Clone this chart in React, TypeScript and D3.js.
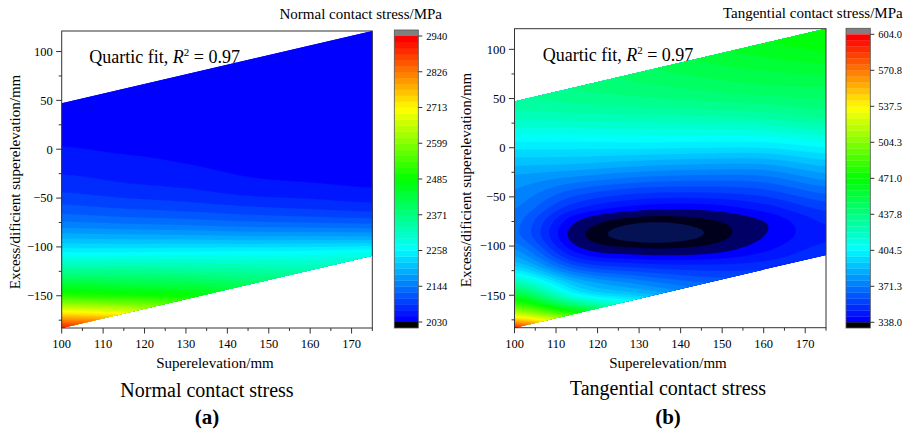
import React from 'react';
import * as d3 from 'd3';

// ---------- data ----------
const xCols = [100, 115, 130, 145, 160, 175];
const yRows = [135, 120, 105, 90, 75, 60, 45, 30, 15, 0, -15, -30, -45, -60, -75, -90, -105, -120, -135, -150, -165, -180, -195];

// Normal contact stress (MPa); one array per superelevation column, rows top -> bottom
const normalGrid = [
  [2042, 2042, 2042, 2043, 2043, 2044, 2044, 2044, 2046, 2050, 2058, 2072, 2088, 2112, 2146, 2195, 2255, 2330, 2420, 2520, 2690, 2870, 3050],
  [2044, 2044, 2044, 2044, 2044, 2044, 2044, 2044, 2045, 2047, 2054, 2064, 2080, 2104, 2140, 2192, 2255, 2333, 2412, 2505, 2665, 2850, 3030],
  [2046, 2046, 2046, 2045, 2044, 2043, 2042, 2042, 2043, 2045, 2049, 2058, 2074, 2098, 2135, 2190, 2258, 2330, 2405, 2490, 2620, 2790, 2950],
  [2047, 2047, 2046, 2045, 2044, 2042, 2041, 2040, 2040, 2041, 2044, 2050, 2064, 2090, 2128, 2186, 2260, 2325, 2390, 2470, 2580, 2730, 2900],
  [2048, 2048, 2047, 2046, 2045, 2043, 2041, 2039, 2038, 2038, 2040, 2046, 2060, 2084, 2124, 2186, 2262, 2322, 2400, 2500, 2600, 2750, 2900],
  [2048, 2048, 2048, 2047, 2046, 2044, 2042, 2040, 2038, 2036, 2036, 2042, 2055, 2078, 2120, 2185, 2270, 2335, 2420, 2520, 2650, 2800, 2950],
];

// Tangential contact stress (MPa)
const tangGrid = [
  [452, 448, 445, 441, 437, 434, 430, 422, 411, 400, 390, 381, 376, 372, 368, 368, 378, 393, 420, 458, 505, 575, 660],
  [456, 453, 450, 446, 442, 438, 432, 423, 411, 400, 389, 376, 363, 351, 338, 334, 342, 360, 385, 408, 462, 535, 620],
  [461, 458, 455, 451, 446, 441, 434, 424, 412, 400, 386, 371, 356, 342, 327, 323, 334, 352, 372, 392, 430, 490, 560],
  [466, 463, 460, 455, 450, 444, 436, 425, 412, 399, 384, 369, 355, 341, 329, 326, 335, 350, 364, 380, 410, 460, 520],
  [470, 468, 464, 459, 453, 447, 438, 427, 413, 399, 384, 370, 358, 347, 338, 338, 343, 352, 362, 375, 400, 440, 500],
  [475, 472, 468, 462, 455, 448, 441, 432, 418, 404, 391, 379, 367, 357, 350, 348, 352, 358, 365, 372, 385, 400, 420],
];

// Domain boundary (parallelogram)
const boundX = [100, 175];
const boundUpper = [47, 121];
const boundLower = [-183, -109];

const xDomain = [100, 175];
const yDomain = [-183, 121];
const xMajor = [100, 110, 120, 130, 140, 150, 160, 170];
const xMinor = [105, 115, 125, 135, 145, 155, 165, 175];
const yMajor = [-150, -100, -50, 0, 50, 100];
const yMinor = [-175, -125, -75, -25, 25, 75];

const normalRange = [2030, 2940];
const normalTickLabels = ['2030', '2144', '2258', '2371', '2485', '2599', '2713', '2826', '2940'];
const tangRange = [338, 604];
const tangTickLabels = ['338.0', '371.3', '404.5', '437.8', '471.0', '504.3', '537.5', '570.8', '604.0'];
const nBands = 48;

// ---------- helpers ----------
const FONT = '"Liberation Serif", "Times New Roman", serif';
const cmap = d3.scaleLinear<string>()
  .domain([0, 0.25, 0.5, 0.75, 1])
  .range(['#0000ff', '#00ffff', '#00ff00', '#ffff00', '#ff0000'])
  .interpolate(d3.interpolateRgb);

function cubic(p0: number, p1: number, p2: number, p3: number, t: number) {
  return p1 + 0.5 * t * (p2 - p0 + t * (2 * p0 - 5 * p1 + 4 * p2 - p3 + t * (3 * (p1 - p2) + p3 - p0)));
}
function sampleGrid(grid: number[][], x: number, y: number) {
  const nc = xCols.length, nr = yRows.length;
  const u = (x - xCols[0]) / (xCols[1] - xCols[0]);
  const v = (yRows[0] - y) / (yRows[0] - yRows[1]);
  const ci = Math.max(0, Math.min(nc - 2, Math.floor(u)));
  const ri = Math.max(0, Math.min(nr - 2, Math.floor(v)));
  const tu = u - ci, tv = v - ri;
  const cl = (i: number, n: number) => Math.max(0, Math.min(n - 1, i));
  const col: number[] = [];
  for (let k = -1; k <= 2; k++) {
    const c = grid[cl(ci + k, nc)];
    col.push(cubic(c[cl(ri - 1, nr)], c[cl(ri, nr)], c[cl(ri + 1, nr)], c[cl(ri + 2, nr)], tv));
  }
  return cubic(col[0], col[1], col[2], col[3], tu);
}

type PanelProps = {
  id: string;
  grid: number[][];
  range: number[];
  tickLabels: string[];
  px: [number, number];
  py: [number, number]; // [bottom, top]
  cbX: [number, number];
  cbGray: number; cbTop: number; cbBot: number; cbBlackBot: number;
  cbTitle: string; cbTitleX: number; cbTitleY: number;
  fitX: number; fitY: number;
  yTitleX: number; yTitleY: number;
  xTitleX: number; xTitleY: number;
  sub: string; subX: number; subY: number;
  letter: string; letterY: number;
  below?: boolean;
};

function Panel(p: PanelProps) {
  const sx = d3.scaleLinear().domain(xDomain).range(p.px);
  const sy = d3.scaleLinear().domain(yDomain).range(p.py);
  const [lo, hi] = p.range;
  const levels = d3.range(nBands + 1).map(i => lo + (i * (hi - lo)) / nBands);

  const fx0 = 98, fy0 = -192, dxs = 0.5, dys = 1;
  const nx = Math.round((177 - fx0) / dxs) + 1;
  const ny = Math.round((126 - fy0) / dys) + 1;
  const vals = new Array(nx * ny);
  for (let j = 0; j < ny; j++) {
    for (let i = 0; i < nx; i++) {
      vals[j * nx + i] = sampleGrid(p.grid, fx0 + i * dxs, fy0 + j * dys);
    }
  }
  const proj = d3.geoTransform({
    point(x: number, y: number) {
      (this as any).stream.point(sx(fx0 + (x - 0.5) * dxs), sy(fy0 + (y - 0.5) * dys));
    },
  });
  const path = d3.geoPath(proj);
  const contours = d3.contours().size([nx, ny]).thresholds(levels.slice(0, nBands))(vals);
  const topC = d3.contours().size([nx, ny]).thresholds([hi])(vals);
  const neg = vals.map((v: number) => -v);
  const lowC = p.below ? d3.contours().size([nx, ny]).thresholds([-lo, -331, -326])(neg) : [];

  const clipPts = [
    [boundX[0], boundUpper[0]], [boundX[1], boundUpper[1]],
    [boundX[1], boundLower[1]], [boundX[0], boundLower[0]],
  ].map(([x, y]) => `${sx(x)},${sy(y)}`).join(' ');

  const cb = d3.scaleLinear().domain([lo, hi]).range([p.cbBot, p.cbTop]);
  const tickVals = p.tickLabels.map((_, i) => lo + (i * (hi - lo)) / (p.tickLabels.length - 1));
  const fmt = d3.format('');
  const axisColor = '#333';
  const lowFill = ['#000', '#000', '#0a2aa8'];
  const lowOp = [0.6, 0.72, 0.4];

  return (
    <g>
      <defs>
        <clipPath id={`clip-${p.id}`}>
          <polygon points={clipPts} />
        </clipPath>
      </defs>
      <g clipPath={`url(#clip-${p.id})`}>
        <rect x={p.px[0] - 5} y={p.py[1] - 5} width={p.px[1] - p.px[0] + 10} height={p.py[0] - p.py[1] + 10} fill={cmap(0)} />
        {contours.map((c, i) => (
          <path key={i} d={path(c as any) || ''} fill={cmap(i / (nBands - 1))} stroke={cmap(i / (nBands - 1))} strokeWidth={0.3} />
        ))}
        {topC.map((c, i) => <path key={'t' + i} d={path(c as any) || ''} fill="#808080" />)}
        {lowC.map((c, i) => (
          <path key={'l' + i} d={path(c as any) || ''} fill={lowFill[i]} fillOpacity={lowOp[i]} />
        ))}
      </g>
      {/* frame */}
      <rect x={p.px[0]} y={p.py[1]} width={p.px[1] - p.px[0]} height={p.py[0] - p.py[1]} fill="none" stroke={axisColor} strokeWidth={1} />
      {/* x ticks */}
      {xMajor.map(v => (
        <g key={'xm' + v}>
          <line x1={sx(v)} x2={sx(v)} y1={p.py[0]} y2={p.py[0] + 5.5} stroke={axisColor} />
          <text x={sx(v)} y={p.py[0] + 20} textAnchor="middle" fontSize={12.5} fontFamily={FONT}>{fmt(v)}</text>
        </g>
      ))}
      {xMinor.map(v => <line key={'xn' + v} x1={sx(v)} x2={sx(v)} y1={p.py[0]} y2={p.py[0] + 3} stroke={axisColor} />)}
      {yMajor.map(v => (
        <g key={'ym' + v}>
          <line x1={p.px[0] - 5.5} x2={p.px[0]} y1={sy(v)} y2={sy(v)} stroke={axisColor} />
          <text x={p.px[0] - 9} y={sy(v) + 4.3} textAnchor="end" fontSize={12.5} fontFamily={FONT}>{d3.format('')(v)}</text>
        </g>
      ))}
      {yMinor.map(v => <line key={'yn' + v} x1={p.px[0] - 3} x2={p.px[0]} y1={sy(v)} y2={sy(v)} stroke={axisColor} />)}

      {/* fit annotation */}
      <text x={p.fitX} y={p.fitY} fontSize={18} fontFamily={FONT}>
        <tspan>Quartic fit, </tspan>
        <tspan fontStyle="italic">R</tspan>
        <tspan fontSize={11} dy={-7}>2</tspan>
        <tspan dy={7}> = 0.97</tspan>
      </text>

      {/* colorbar */}
      <rect x={p.cbX[0]} y={p.cbGray} width={p.cbX[1] - p.cbX[0]} height={p.cbTop - p.cbGray} fill="#808080" />
      {levels.slice(0, nBands).map((l, i) => (
        <rect key={'cb' + i} x={p.cbX[0]} y={cb(levels[i + 1])} width={p.cbX[1] - p.cbX[0]}
          height={cb(l) - cb(levels[i + 1]) + 0.3} fill={cmap(i / (nBands - 1))} />
      ))}
      <rect x={p.cbX[0]} y={p.cbBot} width={p.cbX[1] - p.cbX[0]} height={p.cbBlackBot - p.cbBot} fill="#000" />
      <rect x={p.cbX[0]} y={p.cbGray} width={p.cbX[1] - p.cbX[0]} height={p.cbBlackBot - p.cbGray} fill="none" stroke="#555" strokeWidth={0.8} />
      {tickVals.map((v, i) => (
        <g key={'ct' + i}>
          <line x1={p.cbX[1]} x2={p.cbX[1] + 4} y1={cb(v)} y2={cb(v)} stroke={axisColor} />
          <text x={p.cbX[1] + 8} y={cb(v) + 3.8} fontSize={10.5} fontFamily={FONT}>{p.tickLabels[i]}</text>
        </g>
      ))}
      <text x={p.cbTitleX} y={p.cbTitleY} textAnchor="end" fontSize={15} fontFamily={FONT}>{p.cbTitle}</text>

      {/* titles */}
      <text transform={`translate(${p.yTitleX},${p.yTitleY}) rotate(-90)`} textAnchor="middle" fontSize={15} fontFamily={FONT}>
        Excess/dificient superelevation/mm
      </text>
      <text x={p.xTitleX} y={p.xTitleY} textAnchor="middle" fontSize={15} fontFamily={FONT}>Superelevation/mm</text>
      <text x={p.subX} y={p.subY} textAnchor="middle" fontSize={20} fontFamily={FONT}>{p.sub}</text>
      <text x={p.subX} y={p.letterY} textAnchor="middle" fontSize={21} fontWeight="bold" fontFamily={FONT}>{p.letter}</text>
    </g>
  );
}

export default function App() {
  return (
    <svg width={912} height={433} style={{ position: 'absolute', left: 0, top: 0, background: '#fff' }}>
      <rect width={912} height={433} fill="#fff" />
      <Panel id="a" grid={normalGrid} range={normalRange} tickLabels={normalTickLabels}
        px={[61.7, 372.3]} py={[328, 31]}
        cbX={[394.3, 418.3]} cbGray={30} cbTop={36} cbBot={322} cbBlackBot={328}
        cbTitle="Normal contact stress/MPa" cbTitleX={442} cbTitleY={19}
        fitX={89.3} fitY={62.7}
        yTitleX={19.5} yTitleY={182}
        xTitleX={215} xTitleY={368}
        sub="Normal contact stress" subX={207} subY={396.5} letter="(a)" letterY={424} />
      <Panel id="b" grid={tangGrid} range={tangRange} tickLabels={tangTickLabels}
        px={[514.5, 826]} py={[327.7, 28.7]}
        cbX={[846, 870.3]} cbGray={28.3} cbTop={34.3} cbBot={322.3} cbBlackBot={328}
        cbTitle="Tangential contact stress/MPa" cbTitleX={902.7} cbTitleY={17.5}
        fitX={542.7} fitY={60.7}
        yTitleX={471} yTitleY={180}
        xTitleX={668} xTitleY={368}
        sub="Tangential contact stress" subX={668} subY={395} letter="(b)" letterY={424}
        below />
    </svg>
  );
}
